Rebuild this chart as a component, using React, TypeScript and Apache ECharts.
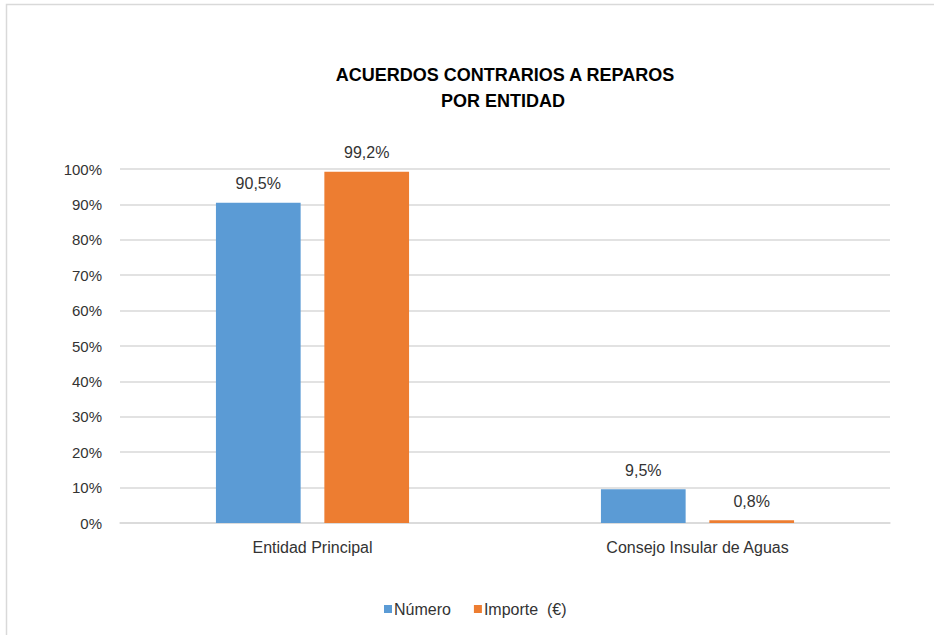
import React, { useEffect, useRef } from "react";
import * as echarts from "echarts";

const categories = ["Entidad Principal", "Consejo Insular de Aguas"];
const numeroValues = [90.5, 9.5];
const importeValues = [99.2, 0.8];
const seriesNames = ["Número", "Importe  (€)"];
const titleLines = ["ACUERDOS CONTRARIOS A REPAROS", "POR ENTIDAD"];

const FONT = "'Liberation Sans', Arial, sans-serif";
const TEXT = "#333333";

export default function App() {
  const ref = useRef<HTMLDivElement>(null);
  useEffect(() => {
    document.body.style.margin = "0";
    const chart = echarts.init(ref.current!, null, { renderer: "svg" });
    const fmt = (v: number) => v.toFixed(1).replace(".", ",") + "%";
    const labelCfg = {
      show: true,
      position: "top",
      distance: 11,
      fontSize: 16,
      color: TEXT,
      fontFamily: FONT,
      formatter: (p: any) => fmt(p.value),
    };
    chart.setOption({
      animation: false,
      backgroundColor: "#ffffff",
      textStyle: { fontFamily: FONT },
      graphic: [
        {
          type: "rect",
          shape: { x: 6.5, y: 4.5, width: 960, height: 660 },
          style: { fill: "none", stroke: "#D9D9D9", lineWidth: 1.5 },
          silent: true,
        },
        {
          type: "text",
          x: 505,
          y: 75,
          style: {
            text: titleLines[0],
            fill: "#000000",
            font: `bold 18px ${FONT}`,
            textAlign: "center",
            textVerticalAlign: "middle",
          },
        },
        {
          type: "text",
          x: 503,
          y: 101,
          style: {
            text: titleLines[1],
            fill: "#000000",
            font: `bold 18px ${FONT}`,
            textAlign: "center",
            textVerticalAlign: "middle",
          },
        },
      ],
      grid: { left: 120, right: 44, top: 169, bottom: 112, containLabel: false },
      legend: {
        data: seriesNames,
        left: 379,
        top: 596,
        icon: "rect",
        itemWidth: 8,
        itemHeight: 8,
        itemGap: 23,
        textStyle: { fontSize: 16, color: TEXT, fontFamily: FONT, padding: [0, 0, 0, -3] },
      },
      xAxis: {
        type: "category",
        data: categories,
        axisLine: { lineStyle: { color: "#D9D9D9", width: 1.5 } },
        axisTick: { show: false },
        axisLabel: { fontSize: 16, color: TEXT, margin: 16, fontFamily: FONT },
      },
      yAxis: {
        type: "value",
        min: 0,
        max: 100,
        interval: 10,
        axisLine: { show: false },
        axisTick: { show: false },
        splitLine: { lineStyle: { color: "#D9D9D9", width: 1.5 } },
        axisLabel: {
          fontSize: 15,
          color: TEXT,
          margin: 18,
          fontFamily: FONT,
          formatter: (v: number) => `${v}%`,
        },
      },
      series: [
        {
          name: seriesNames[0],
          type: "bar",
          data: numeroValues,
          barWidth: "22%",
          barGap: "28%",
          itemStyle: { color: "#5B9BD5" },
          label: labelCfg,
        },
        {
          name: seriesNames[1],
          type: "bar",
          data: importeValues,
          barWidth: "22%",
          barGap: "28%",
          itemStyle: { color: "#ED7D31" },
          label: labelCfg,
        },
      ],
    });
    return () => chart.dispose();
  }, []);
  return <div ref={ref} style={{ width: 934, height: 635 }} />;
}
